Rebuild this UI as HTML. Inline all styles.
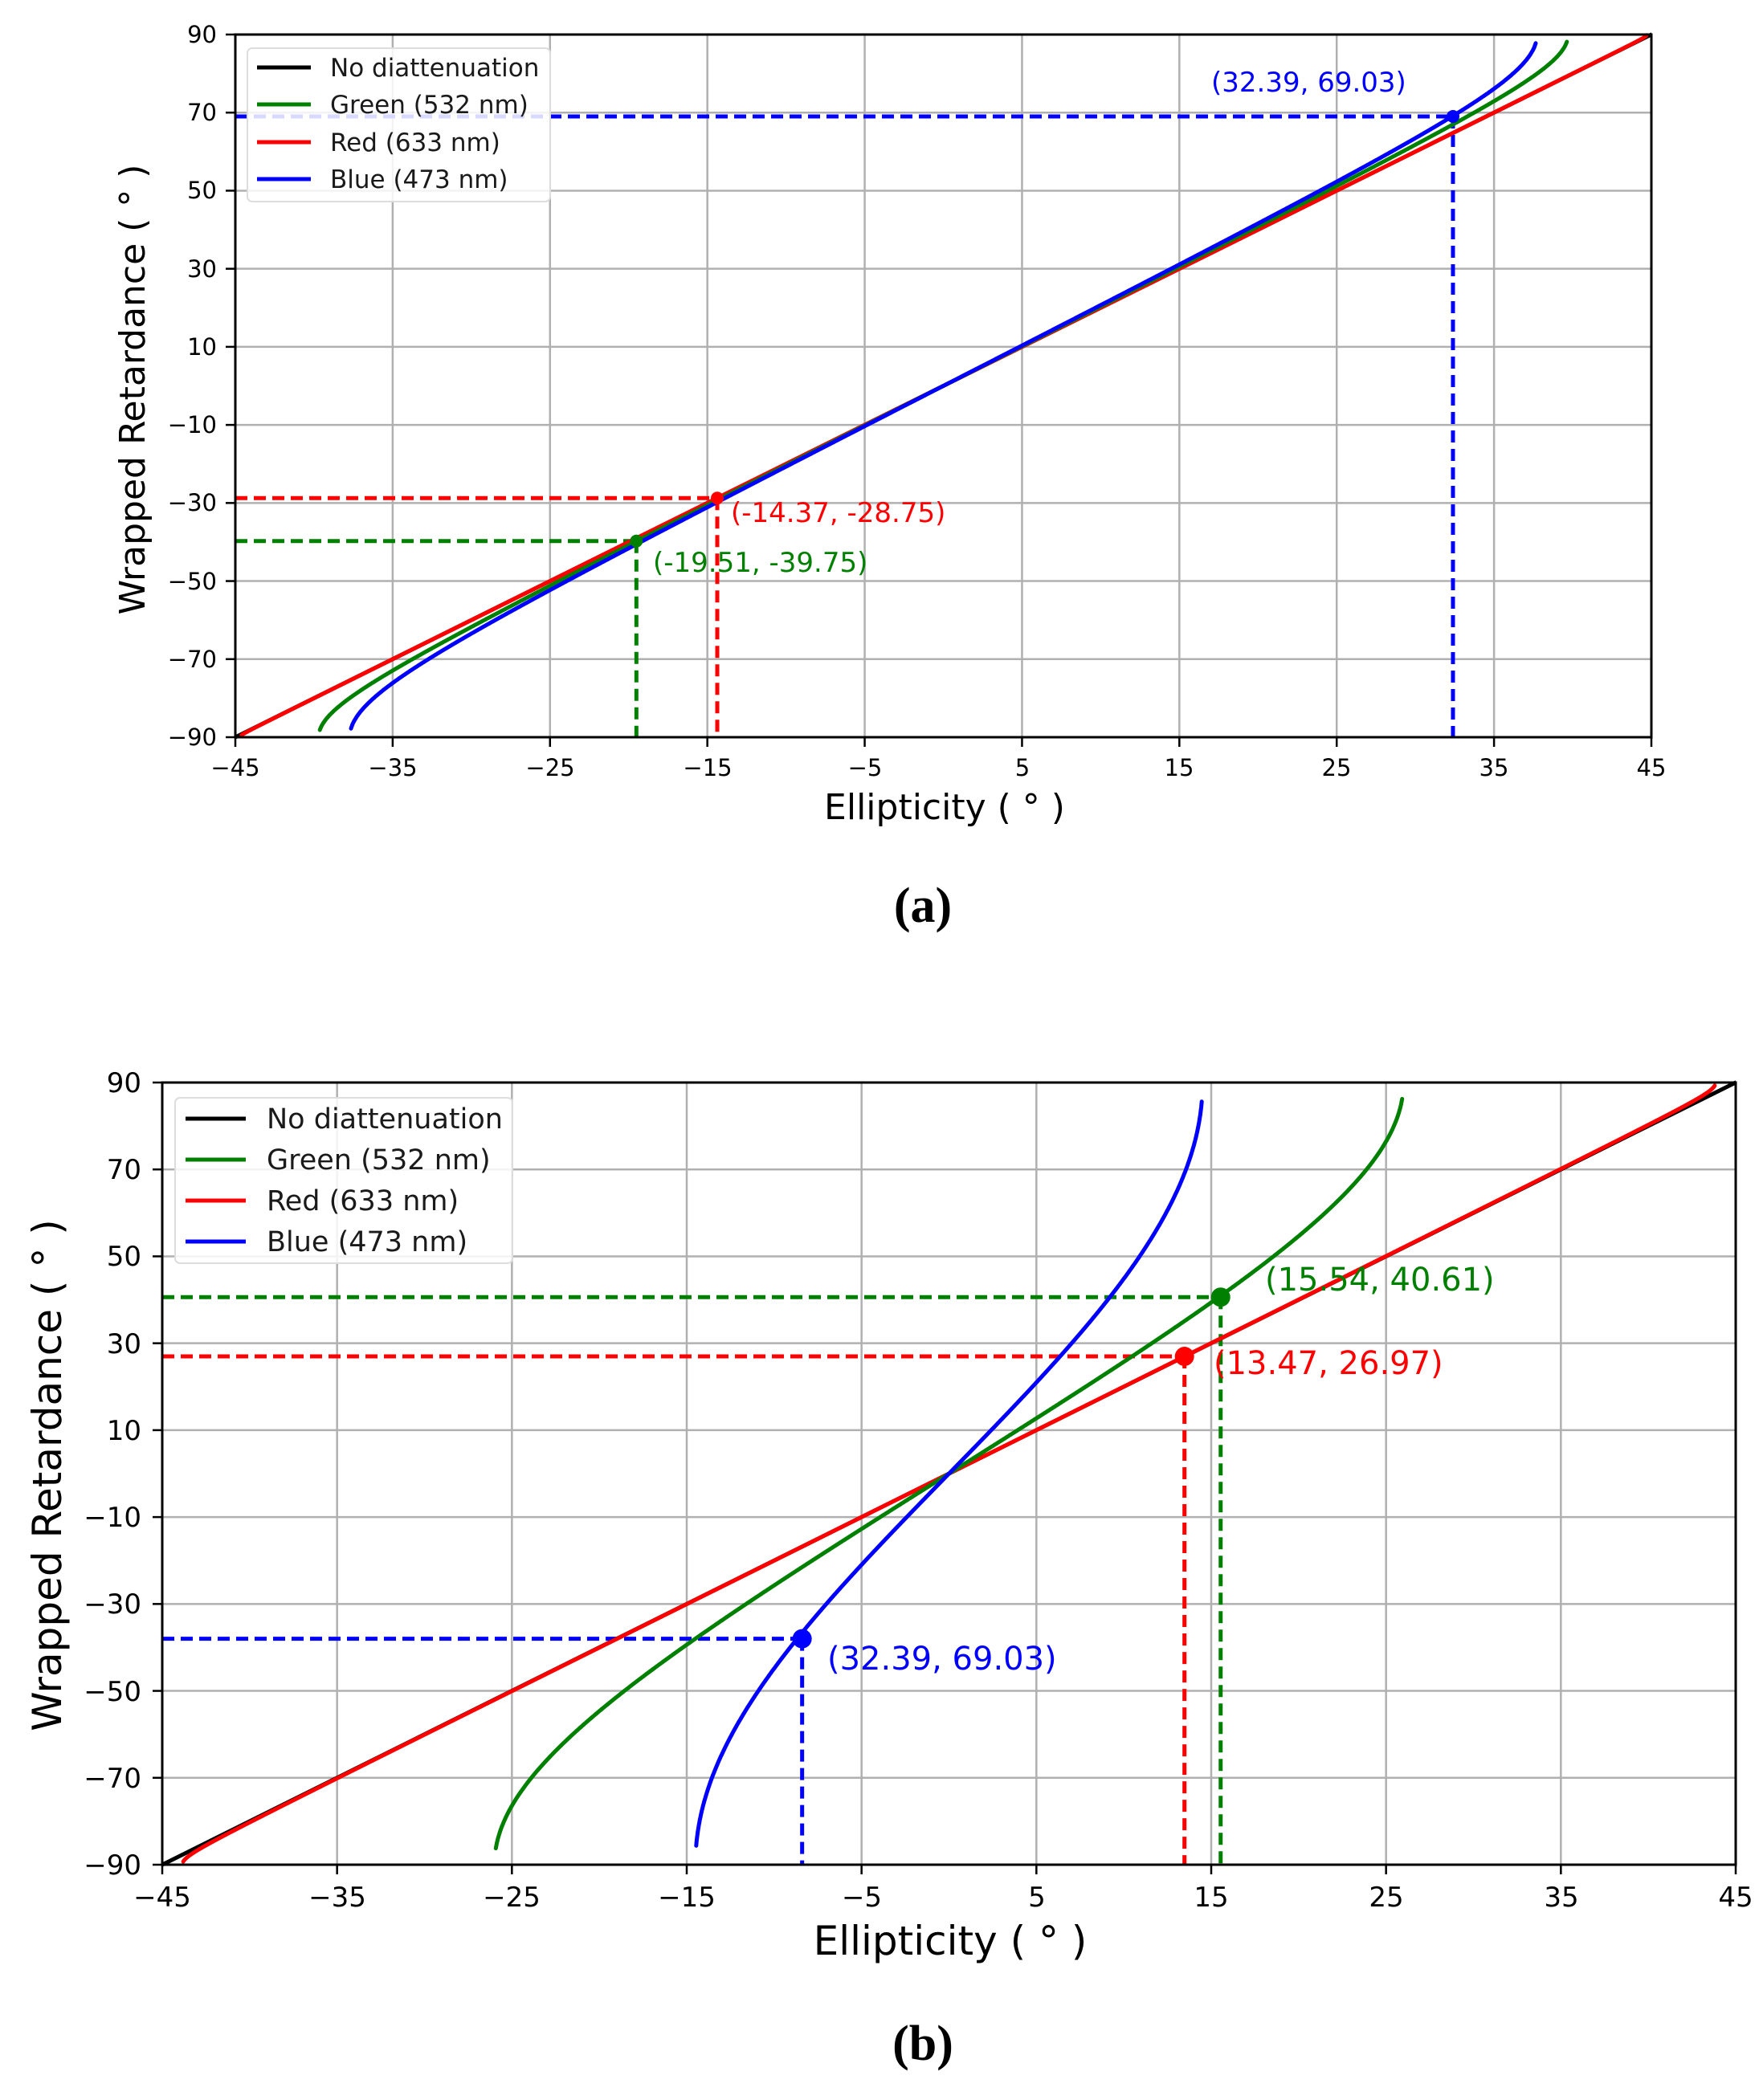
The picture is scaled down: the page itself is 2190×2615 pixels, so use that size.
<!DOCTYPE html>
<html><head><meta charset="utf-8"><style>
html,body{margin:0;padding:0;background:#fff;}
svg{display:block;}
text{font-family:"DejaVu Sans","Liberation Sans",sans-serif;}
</style></head><body>
<svg id="s" width="2190" height="2615" viewBox="0 0 2190 2615" xmlns="http://www.w3.org/2000/svg">
<rect width="2190" height="2615" fill="#fff"/>
<g id="ga"></g><g id="gb"></g>
<g font-size="29" fill="#000" text-anchor="middle">
<text x="293" y="966">−45</text><text x="489" y="966">−35</text><text x="685" y="966">−25</text><text x="881" y="966">−15</text><text x="1077" y="966">−5</text><text x="1273" y="966">5</text><text x="1468" y="966">15</text><text x="1664" y="966">25</text><text x="1860" y="966">35</text><text x="2056" y="966">45</text>
</g>
<g font-size="29" fill="#000" text-anchor="end">
<text x="270" y="53">90</text><text x="270" y="150">70</text><text x="270" y="247">50</text><text x="270" y="345">30</text><text x="270" y="442">10</text><text x="270" y="539">−10</text><text x="270" y="636">−30</text><text x="270" y="734">−50</text><text x="270" y="831">−70</text><text x="270" y="928">−90</text>
</g>
<text x="1176" y="1020" font-size="44" text-anchor="middle">Ellipticity ( ° )</text>
<text transform="translate(180,485) rotate(-90)" font-size="44" text-anchor="middle">Wrapped Retardance ( ° )</text>
<text x="1508" y="114" font-size="34" fill="#0000ff">(32.39, 69.03)</text>
<text x="910" y="650" font-size="34" fill="#ff0000">(-14.37, -28.75)</text>
<text x="813" y="712" font-size="34" fill="#008000">(-19.51, -39.75)</text>
<text x="1149" y="1148" font-size="62" text-anchor="middle" style="font-family:'Liberation Serif',serif" font-weight="bold">(a)</text>
<rect x="308" y="60" width="377" height="191" rx="6" fill="#fff" fill-opacity="0.85" stroke="#ddd" stroke-width="2"/>
<g stroke-width="5"><line x1="320" y1="84" x2="387" y2="84" stroke="#000"/><line x1="320" y1="130" x2="387" y2="130" stroke="#008000"/><line x1="320" y1="177" x2="387" y2="177" stroke="#ff0000"/><line x1="320" y1="223" x2="387" y2="223" stroke="#0000ff"/></g>
<g font-size="31" fill="#1a1a1a"><text x="411" y="95">No diattenuation</text><text x="411" y="141">Green (532 nm)</text><text x="411" y="188">Red (633 nm)</text><text x="411" y="234">Blue (473 nm)</text></g>

<g font-size="34" fill="#000" text-anchor="middle">
<text x="202" y="2374">−45</text><text x="420" y="2374">−35</text><text x="637" y="2374">−25</text><text x="855" y="2374">−15</text><text x="1073" y="2374">−5</text><text x="1291" y="2374">5</text><text x="1508" y="2374">15</text><text x="1726" y="2374">25</text><text x="1944" y="2374">35</text><text x="2161" y="2374">45</text>
</g>
<g font-size="34" fill="#000" text-anchor="end">
<text x="176" y="1360">90</text><text x="176" y="1468">70</text><text x="176" y="1576">50</text><text x="176" y="1685">30</text><text x="176" y="1793">10</text><text x="176" y="1901">−10</text><text x="176" y="2009">−30</text><text x="176" y="2118">−50</text><text x="176" y="2226">−70</text><text x="176" y="2334">−90</text>
</g>
<text x="1183" y="2434" font-size="50" text-anchor="middle">Ellipticity ( ° )</text>
<text transform="translate(76,1837) rotate(-90)" font-size="50" text-anchor="middle">Wrapped Retardance ( ° )</text>
<text x="1575" y="1607" font-size="40" fill="#008000">(15.54, 40.61)</text>
<text x="1511" y="1711" font-size="40" fill="#ff0000">(13.47, 26.97)</text>
<text x="1030" y="2079" font-size="40" fill="#0000ff">(32.39, 69.03)</text>
<text x="1149" y="2565" font-size="62" text-anchor="middle" style="font-family:'Liberation Serif',serif" font-weight="bold">(b)</text>
<rect x="218" y="1367" width="420" height="206" rx="6" fill="#fff" fill-opacity="0.85" stroke="#ddd" stroke-width="2"/>
<g stroke-width="5"><line x1="231" y1="1393" x2="306" y2="1393" stroke="#000"/><line x1="231" y1="1444" x2="306" y2="1444" stroke="#008000"/><line x1="231" y1="1495" x2="306" y2="1495" stroke="#ff0000"/><line x1="231" y1="1546" x2="306" y2="1546" stroke="#0000ff"/></g>
<g font-size="35" fill="#1a1a1a"><text x="332" y="1405">No diattenuation</text><text x="332" y="1456">Green (532 nm)</text><text x="332" y="1507">Red (633 nm)</text><text x="332" y="1558">Blue (473 nm)</text></g>
</svg>
<script>
(function(){
var NS="http://www.w3.org/2000/svg";
function el(p,n,a){var e=document.createElementNS(NS,n);for(var k in a)e.setAttribute(k,a[k]);p.appendChild(e);return e;}
function panel(g,L,R,T,B,curves,pts,lw,mr){
 var X=function(x){return L+(x+45)/90*(R-L)},Y=function(y){return T+(90-y)/180*(B-T)};
 for(var x=-45;x<=45;x+=10){el(g,"line",{x1:X(x),x2:X(x),y1:T,y2:B,stroke:"#b0b0b0","stroke-width":2.5});el(g,"line",{x1:X(x),x2:X(x),y1:B,y2:B+12,stroke:"#000","stroke-width":2.5});}
 for(var y=-90;y<=90;y+=20){el(g,"line",{x1:L,x2:R,y1:Y(y),y2:Y(y),stroke:"#b0b0b0","stroke-width":2.5});el(g,"line",{x1:L-12,x2:L,y1:Y(y),y2:Y(y),stroke:"#000","stroke-width":2.5});}
 var clip="c"+L;var cp=el(g,"clipPath",{id:clip});el(cp,"rect",{x:L,y:T-4,width:R-L,height:B-T+8});
 var cg=el(g,"g",{"clip-path":"url(#"+clip+")"});
 pts.forEach(function(p){var px=X(p[0]),py=Y(p[1]);
  el(cg,"line",{x1:L,x2:px,y1:py,y2:py,stroke:p[2],"stroke-width":lw,"stroke-dasharray":"15,8"});
  el(cg,"line",{x1:px,x2:px,y1:py,y2:B,stroke:p[2],"stroke-width":lw,"stroke-dasharray":"15,8"});});
 curves.forEach(function(c){var s=c[0],col=c[1],d="";
  if(s===0){d="M"+X(-45)+","+Y(-90)+"L"+X(45)+","+Y(90);}
  else{var first=true;var lo=c[3]!==undefined?c[3]:-45,hi=c[4]!==undefined?c[4]:45;
   for(var i=0;i<=3000;i++){var x=lo+(hi-lo)*i/3000;var v=Math.sin(2*x*Math.PI/180)/s;if(Math.abs(v)>c[2])continue;var y=Math.asin(v)*180/Math.PI;d+=(first?"M":"L")+X(x).toFixed(1)+","+Y(y).toFixed(1);first=false;}}
  el(cg,"path",{d:d,fill:"none",stroke:col,"stroke-width":lw,"stroke-linejoin":"round","stroke-linecap":"round"});});
 pts.forEach(function(p){el(cg,"circle",{cx:X(p[0]),cy:Y(p[1]),r:mr,fill:p[2]});});
 el(g,"rect",{x:L,y:T,width:R-L,height:B-T,fill:"none",stroke:"#000","stroke-width":3});
}
panel(document.getElementById("ga"),293,2056,43,918,
 [[0,"#000"],[0.99995,"#ff0000",0.999999,-44.6,45],[0.983,"#008000",0.9995],[0.968,"#0000ff",0.9995]],
 [[32.39,69.03,"#0000ff"],[-14.37,-28.75,"#ff0000"],[-19.51,-39.75,"#008000"]],5,8);
panel(document.getElementById("gb"),202,2161,1348,2322,
 [[0,"#000"],[0.9992,"#ff0000",0.99995],[0.788,"#008000",0.9985],[0.485,"#0000ff",0.9975]],
 [[15.54,40.61,"#008000"],[13.47,26.97,"#ff0000"],[-8.4,-38,"#0000ff"]],5,12);
var s=document.getElementById("s");var ga=document.getElementById("ga"),gb=document.getElementById("gb");
s.insertBefore(gb,s.children[1]);s.insertBefore(ga,s.children[1]);
})();
</script>
</body></html>
